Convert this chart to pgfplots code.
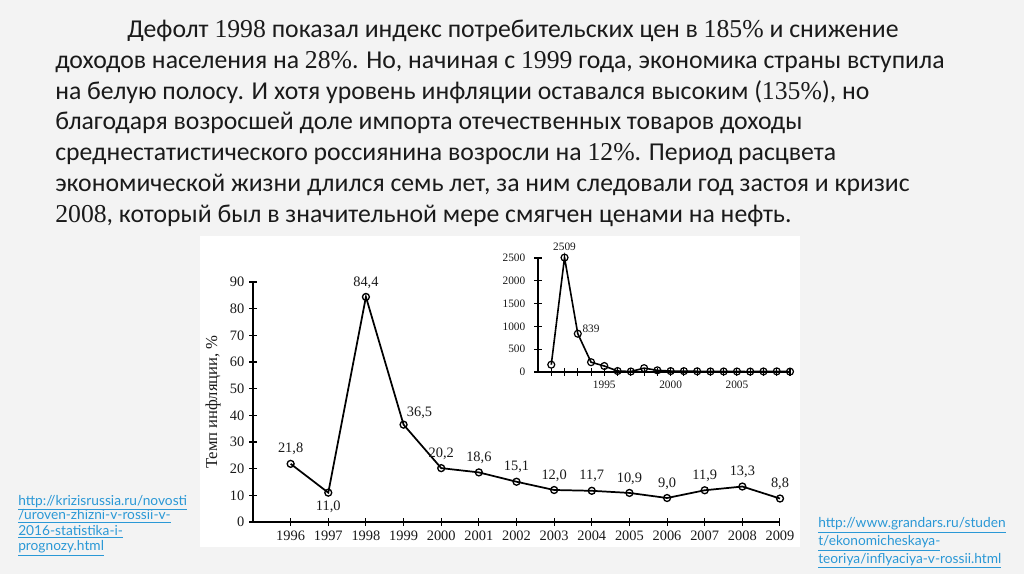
\documentclass[border=0pt]{standalone}
\usepackage{fontspec}
\setmainfont{Liberation Serif}
\newfontfamily\slidefont{Carlito}
\newfontfamily\linkfont{Lato}
\newfontfamily\num{Liberation Serif}
\usepackage{pgfplots}
\pgfplotsset{compat=1.18}
\definecolor{slidebg}{HTML}{F3F3F3}
\definecolor{linkblue}{HTML}{2A98D6}
\definecolor{txt}{HTML}{1A1A1A}

\pgfplotstableread{
year value
1996 21.8
1997 11.0
1998 84.4
1999 36.5
2000 20.2
2001 18.6
2002 15.1
2003 12.0
2004 11.7
2005 10.9
2006 9.0
2007 11.9
2008 13.3
2009 8.8
}\maindata

\pgfplotstableread{
year value
1991 160.4
1992 2509
1993 839
1994 215
1995 131
1996 21.8
1997 11.0
1998 84.4
1999 36.5
2000 20.2
2001 18.6
2002 15.1
2003 12.0
2004 11.7
2005 10.9
2006 9.0
2007 11.9
2008 13.3
2009 8.8
}\insetdata

\begin{document}
\begin{tikzpicture}
% slide background and white chart panel (pixel units)
\begin{scope}[x=0.75pt,y=0.75pt]
\fill[slidebg] (0,0) rectangle (1024,574);
\fill[white] (200,27) rectangle (800,338);
\begin{scope}[font=\slidefont\fontsize{19.3}{19.3}\selectfont, color=txt]
\node[anchor=base west, inner sep=0] at (127,536) {Дефолт {\num 1998} показал индекс потребительских цен в {\num 185\%} и снижение};
\node[anchor=base west, inner sep=0] at (55,505) {доходов населения на {\num 28\%}. Но, начиная с {\num 1999} года, экономика страны вступила};
\node[anchor=base west, inner sep=0] at (55,474.5) {на белую полосу. И хотя уровень инфляции оставался высоким ({\num 135\%}), но};
\node[anchor=base west, inner sep=0] at (55,444) {благодаря возросшей доле импорта отечественных товаров доходы};
\node[anchor=base west, inner sep=0] at (55,413) {среднестатистического россиянина возросли на {\num 12\%}. Период расцвета};
\node[anchor=base west, inner sep=0] at (55,382) {экономической жизни длился семь лет, за ним следовали год застоя и кризис};
\node[anchor=base west, inner sep=0] at (55,351.5) {{\num 2008}, который был в значительной мере смягчен ценами на нефть.};
\end{scope}
\begin{scope}[font=\linkfont\fontsize{10.3}{10.3}\selectfont, color=linkblue]
\node[anchor=base west, inner sep=0] at (18,68.5) {\underline{http://krizisrussia.ru/novosti}};
\node[anchor=base west, inner sep=0] at (18,54) {\underline{/uroven-zhizni-v-rossii-v-}};
\node[anchor=base west, inner sep=0] at (18,38.5) {\underline{2016-statistika-i-}};
\node[anchor=base west, inner sep=0] at (18,23.5) {\underline{prognozy.html}};
\node[anchor=base west, inner sep=0] at (818,46) {\underline{http://www.grandars.ru/studen}};
\node[anchor=base west, inner sep=0] at (818,28) {\underline{t/ekonomicheskaya-}};
\node[anchor=base west, inner sep=0] at (818,10.5) {\underline{teoriya/inflyaciya-v-rossii.html}};
\end{scope}
\end{scope}

% main chart
\begin{axis}[
  at={(189.75pt,39pt)}, anchor=south west,
  scale only axis, width=395.25pt, height=180pt,
  xmin=1995, xmax=2009, ymin=0, ymax=90,
  axis lines=left, axis line style={-, line width=1pt},
  xtick={1996,...,2009}, ytick={0,10,...,90},
  tick align=center, major tick length=6pt,
  tick style={black, line width=0.8pt},
  /pgf/number format/1000 sep={},
  /pgf/number format/assume math mode=true,
  tick label style={font=\fontsize{10.8}{10.8}\selectfont, color=txt},
  ylabel={Темп инфляции, \%},
  ylabel style={font=\fontsize{12.5}{12.5}\selectfont, color=txt},
  clip=false,
]
\addplot[black, line width=1.3pt, mark=o, mark size=2.6pt,
  mark options={fill=white, line width=1pt}] table[x=year, y=value] {\maindata};
\begin{scope}[font=\fontsize{10.8}{10.8}\selectfont, text=txt]
\node[above=3pt] at (axis cs:1996,21.8) {21,8};
\node[below=3pt] at (axis cs:1997,11.0) {11,0};
\node[above=3pt] at (axis cs:1998,84.4) {84,4};
\node[anchor=south west, xshift=-1pt, yshift=1pt] at (axis cs:1999,36.5) {36,5};
\node[above=3pt] at (axis cs:2000,20.2) {20,2};
\node[above=3pt] at (axis cs:2001,18.6) {18,6};
\node[above=3pt] at (axis cs:2002,15.1) {15,1};
\node[above=3pt] at (axis cs:2003,12.0) {12,0};
\node[above=3pt] at (axis cs:2004,11.7) {11,7};
\node[above=3pt] at (axis cs:2005,10.9) {10,9};
\node[above=3pt] at (axis cs:2006,9.0) {9,0};
\node[above=3pt] at (axis cs:2007,11.9) {11,9};
\node[above=3pt] at (axis cs:2008,13.3) {13,3};
\node[above=3pt] at (axis cs:2009,8.8) {8,8};
\end{scope}
\end{axis}

% inset chart
\begin{axis}[
  at={(403.5pt,151.5pt)}, anchor=south west,
  scale only axis, width=189pt, height=85.5pt,
  xmin=1990, xmax=2009, ymin=0, ymax=2500,
  axis lines=left, axis line style={-, line width=0.9pt},
  xtick={1995,2000,2005}, minor xtick={1991,...,2009},
  ytick={0,500,...,2500},
  tick align=center, major tick length=6pt, minor tick length=6pt,
  tick style={black, line width=0.8pt},
  /pgf/number format/1000 sep={},
  /pgf/number format/assume math mode=true,
  tick label style={font=\fontsize{8.5}{8.5}\selectfont, color=txt},
  yticklabel style={xshift=-3pt},
  clip=false,
]
\addplot[black, line width=1.2pt, mark=o, mark size=2.6pt,
  mark options={fill=white, line width=0.9pt}] table[x=year, y=value] {\insetdata};
\node[above=2pt, font=\fontsize{8.5}{8.5}\selectfont, text=txt] at (axis cs:1992,2509) {2509};
\node[anchor=west, font=\fontsize{8.5}{8.5}\selectfont, text=txt, xshift=0pt, yshift=4pt] at (axis cs:1993,839) {839};
\end{axis}
\end{tikzpicture}
\end{document}
